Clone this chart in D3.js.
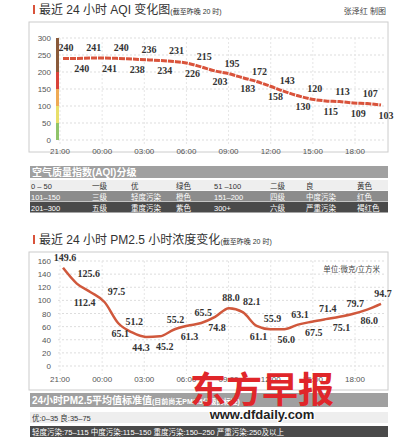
<!DOCTYPE html>
<html><head><meta charset="utf-8">
<script src="https://cdn.jsdelivr.net/npm/d3@7"></script>
<style>
body{margin:0;background:#fff;}
text{font-family:"Liberation Sans","Noto Sans CJK SC",sans-serif;}
.val{font-family:"Liberation Serif","Noto Sans CJK SC",serif;font-weight:bold;font-size:10px;fill:#333;}
</style></head><body>
<svg id="c" width="418" height="442"></svg>
<script>
const hours = ["21:00","00:00","03:00","06:00","09:00","12:00","15:00","18:00"];
const aqi = [240,240,241,241,240,238,236,234,231,226,215,203,195,183,172,158,143,130,120,115,113,109,107,103];
const aqiTicks = [0,50,100,150,200,250,300];
const pm = [149.6,125.6,112.4,97.5,65.1,51.2,44.3,45.2,55.2,61.3,65.5,74.8,88.0,82.1,61.1,55.9,56.0,63.1,67.5,71.4,75.1,79.7,86.0,94.7];
const pmTicks = [0,20,40,60,80,100,120,140,160];
const pmSide = [1,1,-1,1,-1,1,-1,-1,1,-1,1,-1,1,1,-1,1,-1,1,-1,1,-1,1,-1,1];
const pmShift = {1:12,2:-6,3:12,6:-5,7:5,13:9};
const aqiBands = [[0,50,"#8fc46a"],[50,100,"#e8df6a"],[100,150,"#eeaa55"],[150,200,"#d9423a"],[200,300,"#8a5a3a"]];
const aqiTable = [
  ["0 – 50","一级","优","绿色","51 –100","二级","良","黄色"],
  ["101–150","三级","轻度污染","橙色","151–200","四级","中度污染","红色"],
  ["201–300","五级","重度污染","紫色","300+","六级","严重污染","褐红色"]];
const pmRows = ["优:0–35  良:35–75","轻度污染:75–115   中度污染:115–150   重度污染:150–250   严重污染:250及以上"];

const svg = d3.select("#c");
const x = d3.scaleLinear().domain([0,23]).range([63,381]);
const xt = d3.scaleLinear().domain([0,21]).range([60,355]);

function panel(top, bottom){
  svg.append("rect").attr("x",29).attr("y",top).attr("width",359).attr("height",bottom-top)
    .attr("fill","#fff").attr("stroke","#ccc");
}
function title(y, main, sub){
  svg.append("rect").attr("x",33).attr("y",y-9).attr("width",2).attr("height",9).attr("fill","#d9533b");
  const t = svg.append("text").attr("x",39).attr("y",y).attr("font-size",12).attr("fill","#333").text(main);
  t.append("tspan").attr("font-size",7).text(sub);
}
function grid(y, ticks, yBase){
  svg.append("g").selectAll("line").data(ticks).join("line")
    .attr("x1",58).attr("x2",386).attr("y1",d=>y(d)).attr("y2",d=>y(d))
    .attr("stroke","#ddd").attr("stroke-dasharray","2,2");
  svg.append("g").selectAll("text").data(ticks).join("text")
    .attr("x",51).attr("y",d=>y(d)+3).attr("text-anchor","end").attr("font-size",8).attr("fill","#555").text(d=>d);
  svg.append("g").selectAll("line").data(hours).join("line")
    .attr("x1",(d,i)=>xt(i*3)).attr("x2",(d,i)=>xt(i*3)).attr("y1",y.range()[1]).attr("y2",yBase)
    .attr("stroke","#e6e6e6").attr("stroke-dasharray","2,2");
  svg.append("g").selectAll("text").data(hours).join("text")
    .attr("x",(d,i)=>xt(i*3)).attr("y",yBase+8).attr("text-anchor","middle").attr("font-size",8).attr("fill","#555").text(d=>d);
}

// AQI chart
panel(22,152);
title(14,"最近 24 小时 AQI 变化图","(截至昨晚 20 时)");
svg.append("text").attr("x",386).attr("y",14).attr("text-anchor","end").attr("font-size",8).attr("fill","#444").text("张泽红  制图");
const ya = d3.scaleLinear().domain([0,300]).range([140,38]);
grid(ya, aqiTicks, 146);
svg.append("g").selectAll("rect").data(aqiBands).join("rect")
  .attr("x",56).attr("width",3).attr("y",d=>ya(d[1])).attr("height",d=>ya(d[0])-ya(d[1])).attr("fill",d=>d[2]);
svg.append("path").datum(aqi)
  .attr("d",d3.line().x((d,i)=>x(i)).y(d=>ya(d)).curve(d3.curveMonotoneX))
  .attr("fill","none").attr("stroke","#d9533b").attr("stroke-width",3).attr("stroke-dasharray","6,1");
svg.append("g").selectAll("text").data(aqi).join("text").attr("class","val")
  .attr("x",(d,i)=>x(i)+(i%2?5:3)).attr("y",(d,i)=>ya(d)+(i%2?14:-7)).attr("text-anchor","middle").text(d=>d);

// AQI table
const cols = [31,92,131,176,214,270,306,357];
svg.append("rect").attr("x",30).attr("y",166).attr("width",358).attr("height",12).attr("fill","#a0a0a0");
svg.append("text").attr("x",32).attr("y",176).attr("font-size",10).attr("font-weight","bold").attr("fill","#fff")
  .attr("font-family","Liberation Serif,Noto Sans CJK SC,serif").text("空气质量指数(AQI)分级");
const rowFill = ["#eeeeee","#8c8c8c","#4a4a4a"], rowText = ["#333","#fff","#fff"];
aqiTable.forEach((r,j)=>{
  const yy = 180+j*11;
  svg.append("rect").attr("x",30).attr("y",yy).attr("width",358).attr("height",10.5).attr("fill",rowFill[j]);
  svg.append("g").selectAll("text").data(r).join("text")
    .attr("x",(d,i)=>cols[i]).attr("y",yy+8.5).attr("font-size",7.5).attr("fill",rowText[j]).text(d=>d);
});

// PM2.5 chart
panel(252,390);
title(244,"最近 24 小时 PM2.5 小时浓度变化","(截至昨晚 20 时)");
const yp = d3.scaleLinear().domain([0,160]).range([366,261]);
grid(yp, pmTicks, 374);
svg.append("text").attr("x",380).attr("y",272).attr("text-anchor","end").attr("font-size",7.5).attr("fill","#444").text("单位:微克/立方米");
svg.append("path").datum(pm)
  .attr("d",d3.line().x((d,i)=>x(i)).y(d=>yp(d)).curve(d3.curveMonotoneX))
  .attr("fill","none").attr("stroke","#d0583c").attr("stroke-width",2.5);
svg.append("g").selectAll("text").data(pm).join("text").attr("class","val")
  .attr("x",(d,i)=>x(i)+(pmShift[i]||2)).attr("y",(d,i)=>yp(d)+(pmSide[i]>0?-7:14))
  .attr("text-anchor","middle").text(d=>d.toFixed(1));

// PM table
svg.append("rect").attr("x",30).attr("y",393).attr("width",358).attr("height",14).attr("fill","#a0a0a0");
svg.append("text").attr("x",32).attr("y",404).attr("font-size",10).attr("font-weight","bold").attr("fill","#fff")
  .attr("font-family","Liberation Serif,Noto Sans CJK SC,serif").text("24小时PM2.5平均值标准值")
  .append("tspan").attr("font-size",7).text("(目前尚无PM2.5分级的标准)");
svg.append("rect").attr("x",30).attr("y",412).attr("width",358).attr("height",11).attr("fill","#eeeeee");
svg.append("text").attr("x",32).attr("y",420.5).attr("font-size",7.5).attr("fill","#333").text(pmRows[0]);
svg.append("rect").attr("x",30).attr("y",426).attr("width",358).attr("height",11).attr("fill","#4a4a4a");
svg.append("text").attr("x",32).attr("y",434.5).attr("font-size",7.5).attr("fill","#fff").text(pmRows[1]);

// logo
svg.append("text").attr("x",262).attr("y",403).attr("text-anchor","middle").attr("font-size",36).attr("font-weight","bold")
  .attr("fill","#e0262a").attr("font-family","Noto Sans CJK SC").text("东方早报");
svg.append("text").attr("x",262).attr("y",419).attr("text-anchor","middle").attr("font-size",13).attr("font-weight","bold")
  .attr("fill","#222").attr("stroke","#fff").attr("stroke-width",2).attr("paint-order","stroke").text("www.dfdaily.com");
</script></body></html>
